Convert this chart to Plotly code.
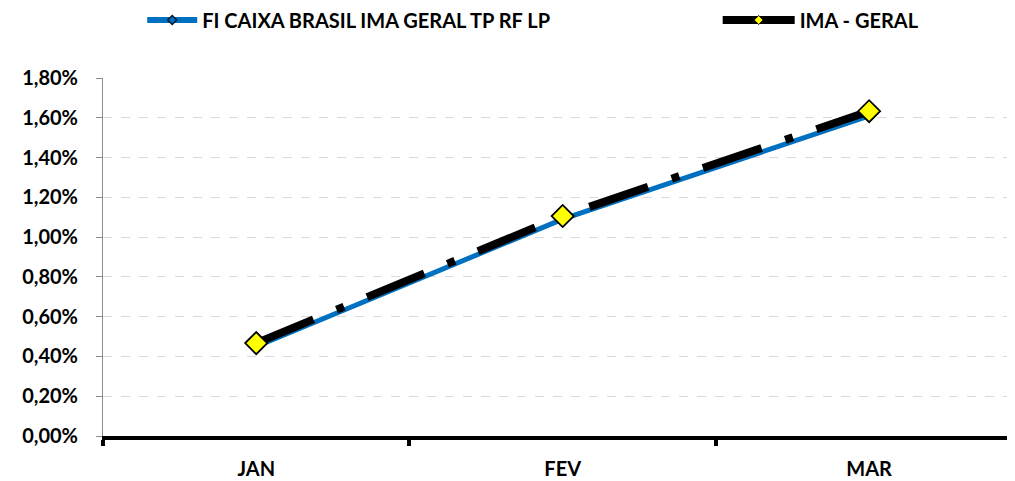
import plotly.graph_objects as go

months = ["JAN", "FEV", "MAR"]
fi_caixa = [0.0045, 0.0109, 0.0161]
ima_geral = [0.00467, 0.01106, 0.01633]
y_ticks = [0, 0.002, 0.004, 0.006, 0.008, 0.010, 0.012, 0.014, 0.016, 0.018]

name_fi = "FI CAIXA BRASIL IMA GERAL TP RF LP"
name_ima = "IMA - GERAL"

fig = go.Figure()

fig.add_trace(go.Scatter(x=months, y=fi_caixa, name=name_fi,
                         mode="lines+markers", showlegend=False,
                         line=dict(color="#0070C0", width=5),
                         marker=dict(symbol="diamond", size=7, color="#0070C0",
                                     line=dict(color="#0a1a30", width=1.5))))

fig.add_trace(go.Scatter(x=months, y=ima_geral, name=name_ima,
                         mode="lines+markers", showlegend=False,
                         line=dict(color="black", width=8, dash="62px,25px,8px,25px"),
                         marker=dict(symbol="diamond", size=17, color="#FFFF00",
                                     line=dict(color="black", width=1.8))))

# legend entries (smaller markers than on the chart)
fig.add_trace(go.Scatter(x=[None], y=[None], name=name_fi, legend="legend",
                         mode="lines+markers",
                         line=dict(color="#0070C0", width=6),
                         marker=dict(symbol="diamond", size=7, color="#0070C0",
                                     line=dict(color="#0a1a30", width=1.5))))
fig.add_trace(go.Scatter(x=[None], y=[None], name=name_ima, legend="legend2",
                         mode="lines+markers",
                         line=dict(color="black", width=8),
                         marker=dict(symbol="diamond", size=7, color="#FFFF00",
                                     line=dict(color="black", width=1))))

legend_font = dict(size=20, family="Lato, Arial", weight="bold", color="black")

# the page body adds an 8px offset, so the figure is drawn slightly smaller
fig.update_layout(width=1007, height=473,
                  margin=dict(l=95, r=0, t=70, b=45, autoexpand=False),
                  plot_bgcolor="white",
                  paper_bgcolor="white",
                  separators=",.",
                  font=dict(family="Lato, Arial", color="black"),
                  showlegend=True,
                  legend=dict(orientation="h", x=0.043, xanchor="left",
                              y=1.162, yanchor="middle", itemwidth=50,
                              font=legend_font),
                  legend2=dict(orientation="h", x=0.674, xanchor="left",
                               y=1.162, yanchor="middle", itemwidth=72,
                               font=legend_font))

fig.update_xaxes(range=[-0.5, 2.476], automargin=False,
                 showline=True, linecolor="black", linewidth=4,
                 ticks="outside", tickson="boundaries", ticklen=6, tickwidth=4,
                 tickcolor="black", showgrid=False, ticklabelstandoff=12,
                 tickfont=dict(size=20, weight="bold"))

fig.update_yaxes(range=[0, 0.018], tickvals=y_ticks, tickformat=".2%",
                 automargin=False,
                 showline=True, linecolor="#8c8c8c", linewidth=1,
                 ticks="outside", ticklen=6, tickcolor="#8c8c8c",
                 showgrid=True, gridcolor="#d9d9d9", griddash="dash", gridwidth=1,
                 zeroline=False, ticklabelstandoff=14,
                 tickfont=dict(size=20, weight="bold"))

fig.write_html("out.html")
